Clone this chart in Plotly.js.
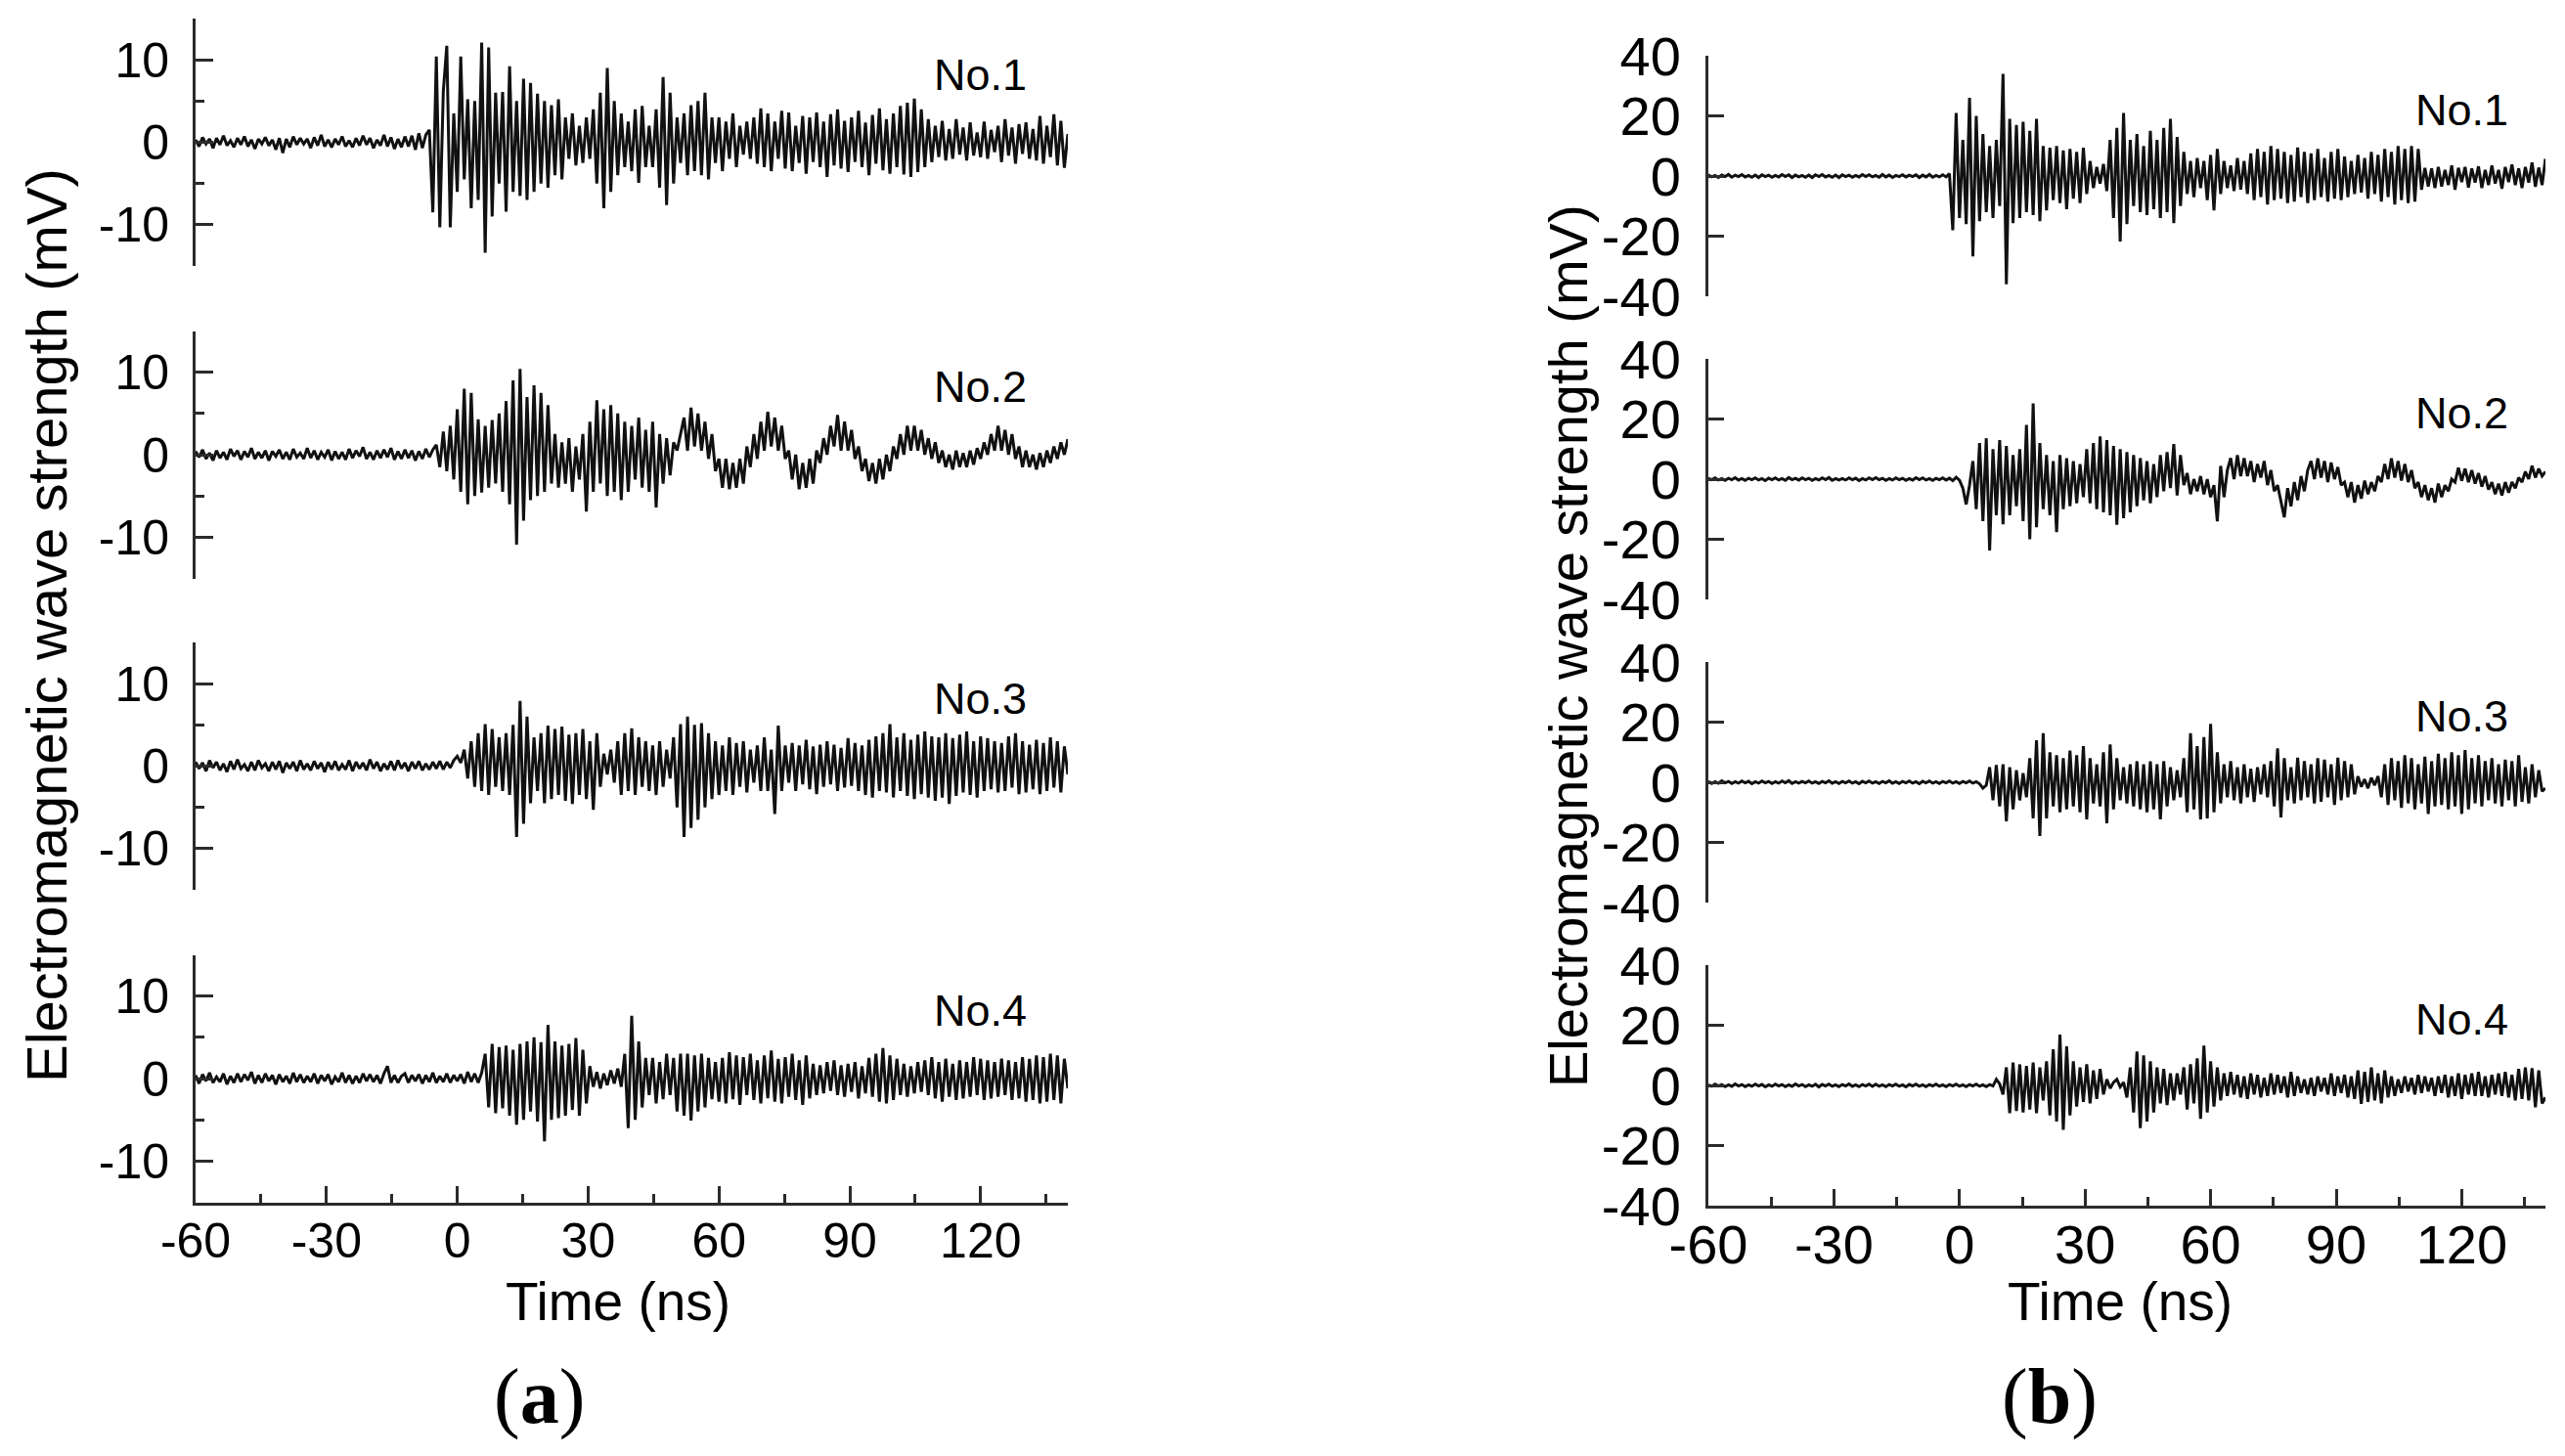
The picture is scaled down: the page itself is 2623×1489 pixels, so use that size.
<!DOCTYPE html>
<html><head><meta charset="utf-8">
<script src="https://cdn.plot.ly/plotly-3.0.1.min.js"></script>
<style>html,body{margin:0;padding:0;background:#fff}#chart{width:2623px;height:1489px}</style>
</head><body><div id="chart"></div>
<script>
// Sampling grid of the recorded traces (ns)
const timeStartNs = -60, timeStepNs = 0.8;

// ---- Panel (a): electromagnetic wave strength (mV), traces No.1 - No.4 ----
const a1 = [
0.3,-0.5,0.6,-0.2,0.4,-0.7,0.5,-0.3,0.8,-0.4,
0.2,-0.6,0.5,-0.3,0.7,-0.5,0.3,-0.8,0.4,-0.2,
0.6,-0.4,0.3,-0.9,0.5,-1.3,0.4,-0.6,0.7,-0.3,
0.5,-0.2,0.4,-0.7,0.6,-0.4,0.9,-0.5,0.3,-0.6,
0.4,-0.3,0.7,-0.5,0.2,-0.6,0.5,-0.4,0.8,-0.3,
0.5,-0.7,0.3,-0.4,0.9,-0.5,0.6,-0.8,0.4,-0.6,
0.7,-0.5,0.8,-0.9,1.1,-0.7,0.9,1.5,-8.5,10.4,
-10.3,6.2,11.7,-10.3,3.5,-6.0,10.4,-4.5,5.2,-8.0,
5.0,-7.0,12.1,-13.4,11.5,-9.0,6.0,-5.0,6.1,-8.4,
9.2,-6.0,5.0,-6.5,7.7,-7.0,7.2,-6.0,5.9,-5.0,
5.0,-5.5,4.5,-4.0,5.2,-4.5,3.0,-2.0,3.5,-2.8,
2.0,-2.5,3.0,-2.0,4.0,-5.0,6.0,-8.0,9.0,-6.0,
5.0,-4.0,3.5,-3.0,2.5,-3.5,4.0,-4.9,4.4,-3.0,
2.0,-3.0,4.0,-5.5,7.9,-7.6,6.0,-5.0,3.0,-2.5,
3.5,-4.0,4.5,-3.5,5.0,-4.0,6.0,-4.5,3.0,-2.5,
3.0,-3.5,2.5,-2.0,3.5,-3.0,2.0,-1.5,2.5,-2.0,
3.0,-2.6,4.1,-3.0,3.5,-3.5,2.5,-2.0,3.8,-3.2,
3.6,-3.5,2.0,-2.5,3.2,-3.8,3.0,-2.4,3.6,-3.0,
2.5,-4.2,3.4,-2.8,4.0,-3.2,2.6,-3.6,3.0,-2.4,
3.8,-3.0,2.4,-4.0,3.3,-2.6,4.1,-3.4,2.8,-3.8,
3.5,-3.0,4.4,-3.9,4.8,-4.2,5.3,-3.6,4.0,-3.0,
2.8,-2.4,2.0,-1.8,2.6,-2.2,1.6,-2.0,2.8,-1.5,
1.8,-2.2,2.4,-1.6,1.2,-1.8,2.5,-2.0,1.5,-1.2,
2.0,-2.4,2.8,-1.6,1.8,-2.6,2.2,-1.4,2.4,-2.0,
1.6,-2.2,3.2,-2.6,2.0,-1.8,3.4,-2.8,2.6,-3.1,
1.0];
const a2 = [
0.4,-0.3,0.6,-0.5,0.2,-0.7,0.5,-0.4,0.3,-0.6,
0.7,-0.2,0.5,-0.6,0.4,-0.3,0.8,-0.5,0.3,-0.4,
0.5,-0.7,0.4,-0.2,0.6,-0.5,0.3,-0.6,0.7,-0.3,
0.2,-0.5,0.8,-0.4,0.5,-0.6,0.3,-0.3,0.6,-0.7,
0.4,-0.5,0.3,-0.6,0.7,-0.4,0.5,-0.2,0.9,-0.5,
0.3,-0.6,0.5,-0.4,0.6,-0.3,0.8,-0.6,0.4,-0.5,
0.6,-0.4,0.5,-0.7,0.4,-0.5,0.7,-0.3,0.6,1.2,
-1.5,2.8,-2.0,3.5,-3.0,5.5,-4.5,8.0,-6.0,7.5,
-5.0,4.3,-4.6,3.5,-4.0,4.2,-3.5,5.0,-4.5,6.5,
-6.0,9.0,-10.9,10.4,-8.0,7.0,-5.5,8.4,-5.0,7.5,
-4.5,6.0,-3.5,2.5,-4.0,1.5,-3.5,2.0,-4.5,1.0,
-3.0,2.5,-6.9,4.0,-4.5,6.6,-3.5,5.5,-5.0,6.0,
-4.5,5.0,-5.5,4.0,-4.5,3.5,-3.0,4.5,-4.0,3.0,
-4.5,4.0,-6.4,2.5,-3.5,2.0,-2.5,1.5,0.5,2.5,
4.5,0.5,5.7,1.0,5.0,0.5,4.0,-0.5,2.5,-2.0,
-0.5,-4.0,-0.5,-4.2,-1.0,-4.0,-0.5,-3.5,1.0,-1.5,
2.5,-0.5,4.0,0.5,5.2,1.0,4.5,0.5,3.5,-0.5,
0.5,-3.0,0.0,-4.2,-1.0,-4.0,-0.5,-3.5,0.5,-1.0,
2.0,0.0,3.5,1.0,4.8,0.5,4.0,0.5,3.0,-0.5,
1.0,-2.0,-0.5,-3.2,-1.0,-3.5,-0.5,-3.0,0.0,-2.0,
1.0,-0.5,2.5,0.0,3.5,0.5,3.5,0.5,3.0,0.0,
2.0,-0.5,1.5,-1.0,0.5,-1.5,0.0,-1.8,0.5,-1.5,
0.2,-1.5,0.5,-1.2,0.8,-0.5,1.5,0.0,2.5,0.5,
3.5,0.5,3.0,0.0,2.5,-0.5,1.0,-1.5,0.5,-1.5,
0.0,-1.8,0.2,-1.5,0.5,-1.0,1.0,-0.5,1.5,0.0,
1.9];
const a3 = [
0.5,-0.3,0.4,-0.6,0.7,-0.2,0.5,-0.5,0.3,-0.7,
0.6,-0.4,0.8,-0.3,0.2,-0.6,0.5,-0.5,0.7,-0.2,
0.3,-0.6,0.5,-0.4,0.6,-0.8,0.4,-0.3,0.5,-0.6,
0.7,-0.4,0.3,-0.5,0.6,-0.3,0.4,-0.7,0.5,-0.4,
0.6,-0.5,0.2,-0.4,0.7,-0.6,0.5,-0.3,0.4,-0.5,
0.8,-0.3,0.5,-0.6,0.3,-0.4,0.6,-0.5,0.7,-0.3,
0.4,-0.6,0.5,-0.3,0.6,-0.5,0.3,-0.4,0.5,-0.3,
0.6,-0.4,0.5,-0.2,0.7,1.2,0.4,2.0,-1.5,3.0,
-2.5,4.0,-3.0,5.1,-3.5,4.5,-2.5,3.5,-3.0,4.0,
-3.5,5.0,-8.6,7.9,-7.0,6.0,-4.5,3.5,-3.0,4.0,
-4.5,4.9,-4.0,4.5,-3.5,4.8,-4.2,3.8,-4.6,4.0,
-3.5,4.5,-4.0,3.0,-5.3,4.0,-2.5,1.5,-1.0,2.0,
-2.0,3.0,-3.5,4.0,-3.0,4.6,-3.5,3.5,-2.5,3.0,
-3.0,2.5,-3.5,3.0,-2.5,2.0,-1.5,3.5,-5.0,5.1,
-8.6,6.0,-7.5,5.0,-6.5,5.2,-5.0,4.0,-4.0,3.0,
-3.5,2.5,-3.0,3.5,-3.5,2.8,-2.5,3.0,-3.2,2.0,
-2.0,2.5,-3.0,3.5,-3.0,2.0,-5.8,4.9,-3.0,2.5,
-2.0,2.8,-3.0,2.5,-2.2,3.2,-2.8,2.4,-3.4,2.6,
-2.5,3.0,-2.2,2.6,-3.0,2.2,-2.6,3.4,-2.4,2.8,
-3.0,2.5,-3.5,3.2,-3.8,3.6,-3.0,4.0,-3.2,5.1,
-3.8,3.5,-3.0,4.0,-3.6,3.2,-4.0,3.8,-3.4,4.2,
-3.8,3.6,-4.2,3.5,-3.8,4.0,-4.6,3.4,-3.6,3.8,
-3.2,4.2,-3.5,3.0,-3.8,3.6,-3.0,3.4,-2.8,3.0,
-3.2,2.8,-3.0,3.6,-2.6,4.0,-3.4,3.0,-3.2,2.6,
-2.8,3.2,-3.4,2.8,-3.0,3.5,-2.6,3.0,-3.2,2.4,
-1.0];
const a4 = [
0.4,-0.6,0.5,-0.3,0.7,-0.5,0.2,-0.4,0.6,-0.7,
0.3,-0.5,0.6,-0.4,0.5,-0.2,0.8,-0.6,0.4,-0.5,
0.6,-0.3,0.4,-0.7,0.5,-0.4,0.3,-0.6,0.7,-0.4,
0.5,-0.5,0.3,-0.4,0.6,-0.6,0.4,-0.3,0.5,-0.7,
0.2,-0.4,0.7,-0.5,0.4,-0.6,0.3,-0.5,0.6,-0.3,
0.5,-0.4,0.4,-0.6,0.6,1.5,-0.5,0.4,-0.5,0.3,
0.6,-0.5,0.4,-0.3,0.5,-0.6,0.4,-0.4,0.7,-0.5,
0.3,-0.4,0.6,-0.5,0.4,-0.3,0.5,-0.6,0.8,-0.4,
0.6,-0.5,0.7,3.0,-3.5,4.2,-4.2,3.8,-3.6,4.0,
-4.5,3.5,-5.6,4.2,-5.0,4.5,-4.0,5.0,-5.2,4.4,
-7.6,6.5,-5.0,4.5,-4.8,4.0,-4.5,4.2,-3.8,4.9,
-4.5,3.5,-3.0,1.5,-1.0,0.8,-1.2,0.6,-0.8,1.0,
-0.6,1.2,-1.0,3.0,-6.0,7.6,-5.0,4.5,-3.5,2.5,
-2.0,2.5,-3.0,2.0,-2.5,3.0,-2.0,2.5,-4.0,3.0,
-4.5,3.0,-5.1,2.8,-4.0,3.0,-3.5,2.5,-2.5,2.0,
-2.8,2.5,-3.0,3.2,-2.5,2.8,-3.2,2.6,-2.0,3.0,
-2.6,2.2,-3.0,2.8,-2.4,3.4,-2.8,2.4,-3.0,2.6,
-2.2,3.0,-2.6,2.2,-3.2,2.8,-2.4,1.8,-2.0,1.6,
-1.8,2.0,-1.5,2.2,-2.0,1.6,-2.2,1.8,-1.6,2.0,
-2.4,1.5,-1.8,2.5,-2.2,3.0,-2.8,3.7,-3.0,2.8,
-2.6,2.4,-2.0,1.8,-2.2,1.5,-1.8,2.0,-1.6,2.2,
-2.0,2.6,-2.4,2.0,-2.8,2.4,-2.2,1.8,-2.6,2.2,
-2.4,2.0,-2.2,2.6,-2.0,2.4,-2.6,2.2,-2.4,2.0,
-2.2,2.4,-2.0,2.2,-2.6,2.0,-2.4,2.6,-2.8,2.4,
-2.6,2.8,-3.0,2.6,-2.8,3.0,-2.6,2.8,-3.0,2.4,
-1.2];

// ---- Panel (b): electromagnetic wave strength (mV), traces No.1 - No.4 ----
const b1 = [
0.4,-0.3,0.2,-0.5,0.3,-0.2,0.5,-0.4,0.3,-0.2,
0.5,-0.3,0.2,-0.4,0.3,-0.5,0.4,-0.2,0.3,-0.4,
0.2,-0.3,0.5,-0.2,0.4,-0.5,0.3,-0.3,0.2,-0.4,
0.3,-0.5,0.4,-0.2,0.5,-0.3,0.2,-0.4,0.3,-0.5,
0.4,-0.2,0.3,-0.4,0.2,-0.3,0.5,-0.2,0.4,-0.3,
0.2,-0.4,0.5,-0.3,0.3,-0.5,0.2,-0.2,0.4,-0.3,
0.3,-0.2,0.4,-0.5,0.3,-0.3,0.5,-0.4,0.2,-0.3,
0.4,-0.3,0.8,-18.0,21.0,-14.0,12.0,-16.0,26.0,-26.7,
20.0,-15.0,14.0,-12.0,10.0,-14.0,12.0,-10.0,34.0,-36.0,
19.0,-15.7,17.0,-14.0,18.0,-12.0,15.0,-13.0,19.0,-15.0,
10.0,-11.4,9.4,-8.0,10.0,-9.0,8.5,-11.0,9.0,-7.5,
8.0,-9.0,9.4,-6.0,5.0,-4.0,3.0,-2.5,4.0,-5.0,
12.0,-14.0,16.0,-21.8,21.0,-16.0,12.0,-10.0,14.0,-12.0,
10.0,-13.0,15.0,-11.0,12.0,-14.0,16.0,-12.0,19.0,-15.7,
13.0,-10.0,8.0,-6.0,5.0,-7.0,6.0,-4.0,5.0,-8.0,
7.0,-11.4,9.0,-6.0,5.0,-4.0,3.5,-5.0,6.0,-4.5,
5.0,-6.0,7.5,-8.0,9.0,-7.0,8.0,-9.5,10.0,-8.0,
9.0,-7.5,8.0,-9.0,7.0,-8.5,9.5,-7.0,8.0,-9.0,
7.5,-8.0,9.0,-7.0,6.0,-8.5,8.0,-7.5,9.0,-8.0,
6.5,-7.0,5.0,-6.0,7.0,-5.5,6.0,-7.5,8.0,-6.0,
7.0,-8.5,9.0,-7.0,8.0,-9.5,10.0,-8.0,9.0,-9.0,
10.0,-8.5,9.0,-4.6,2.7,-3.5,2.5,-4.0,3.0,-3.5,
2.0,-3.0,3.5,-4.6,2.7,-2.0,3.0,-3.8,2.5,-2.2,
3.2,-4.0,2.0,-3.0,3.5,-2.5,2.0,-4.2,3.0,-2.0,
3.8,-3.0,2.5,-4.0,3.0,-2.2,4.5,-3.6,2.8,-3.0,
5.7];
const b2 = [
0.3,-0.2,0.4,-0.3,0.2,-0.4,0.3,-0.2,0.5,-0.3,
0.2,-0.4,0.3,-0.2,0.4,-0.3,0.2,-0.5,0.3,-0.2,
0.4,-0.3,0.2,-0.4,0.5,-0.2,0.3,-0.3,0.4,-0.2,
0.3,-0.4,0.2,-0.3,0.4,-0.2,0.5,-0.4,0.2,-0.3,
0.2,-0.3,0.4,-0.2,0.3,-0.5,0.2,-0.3,0.4,-0.2,
0.5,-0.2,0.3,-0.4,0.2,-0.3,0.4,-0.2,0.3,-0.4,
0.2,-0.3,0.5,-0.2,0.4,-0.3,0.2,-0.4,0.3,-0.2,
0.4,-0.3,0.3,-0.5,0.6,-0.4,-3.0,-8.4,-2.0,6.0,
-10.0,12.0,-14.0,13.6,-23.7,10.0,-12.0,13.0,-15.0,11.0,
-12.0,8.0,-9.0,10.0,-14.0,18.0,-20.0,25.2,-16.0,12.0,
-10.0,8.0,-12.0,6.0,-17.6,8.0,-10.0,7.0,-9.0,6.0,
-8.0,5.0,-6.0,10.0,-8.0,12.0,-10.0,14.2,-11.0,13.0,
-12.0,11.0,-15.2,10.0,-13.0,9.0,-11.0,8.0,-9.0,7.0,
-7.0,6.0,-8.0,5.0,-6.0,8.0,-4.0,9.0,-3.0,11.7,
-5.4,8.0,-2.0,2.0,-5.0,0.0,-4.0,1.0,-5.0,0.0,
-6.0,-2.0,-14.0,4.4,-6.0,3.0,7.0,0.0,8.0,1.0,
7.0,1.0,6.0,-1.0,5.0,0.5,6.0,-2.0,3.0,-4.0,
-2.0,-7.0,-12.7,-3.0,-9.0,-1.0,-7.0,1.0,-4.0,3.0,
6.0,0.0,6.9,0.5,6.0,-1.0,5.5,0.0,4.0,-2.0,
-1.0,-6.0,-1.0,-7.8,-2.0,-6.5,-0.5,-5.0,-1.0,-4.0,
1.0,-1.0,5.0,0.0,6.9,0.5,6.0,-0.5,5.0,-1.0,
3.0,-3.0,-1.0,-6.0,-2.0,-7.0,-3.0,-7.8,-1.5,-6.0,
-2.0,-4.0,0.0,-1.0,3.8,-0.5,3.5,-1.0,3.0,-1.5,
2.0,-2.5,1.0,-3.5,-1.0,-5.0,-1.5,-5.4,-1.0,-4.5,
-1.0,-3.0,0.5,-1.0,2.5,0.0,4.4,0.5,3.5,1.0,
2.5];
const b3 = [
0.3,-0.4,0.2,-0.3,0.5,-0.2,0.3,-0.4,0.2,-0.3,
0.4,-0.2,0.3,-0.5,0.2,-0.3,0.4,-0.2,0.3,-0.4,
0.2,-0.3,0.4,-0.2,0.5,-0.4,0.2,-0.3,0.3,-0.2,
0.4,-0.3,0.2,-0.4,0.3,-0.2,0.5,-0.3,0.2,-0.4,
0.3,-0.2,0.4,-0.3,0.2,-0.5,0.3,-0.2,0.4,-0.3,
0.2,-0.4,0.3,-0.2,0.5,-0.3,0.2,-0.4,0.3,-0.2,
0.4,-0.3,0.2,-0.5,0.3,-0.2,0.4,-0.3,0.2,-0.4,
0.3,-0.2,0.4,-0.3,0.2,-0.4,0.3,-0.2,0.4,-0.3,
0.2,-0.5,-2.0,-1.0,5.0,-6.0,5.7,-8.0,6.0,-13.0,
5.0,-9.0,4.0,-6.0,3.0,-5.0,8.0,-12.0,14.0,-17.9,
16.3,-12.0,10.0,-8.0,9.0,-10.0,8.0,-9.0,10.5,-8.0,
9.0,-10.0,12.0,-12.3,8.0,-7.0,6.0,-8.0,10.0,-13.6,
12.6,-9.0,8.0,-6.0,5.0,-7.0,6.0,-8.0,7.0,-9.0,
6.0,-10.0,7.0,-9.0,6.0,-12.3,7.0,-8.0,5.0,-6.0,
4.0,-5.0,8.0,-10.0,16.3,-9.0,12.0,-12.3,15.0,-12.0,
19.4,-10.0,10.0,-7.0,6.0,-5.0,7.0,-6.0,5.0,-7.0,
6.0,-5.0,4.5,-6.5,5.0,-4.0,6.0,-5.0,7.0,-8.0,
11.3,-11.7,8.0,-6.0,5.0,-7.0,8.2,-6.0,7.0,-5.0,
6.0,-7.0,8.0,-6.5,7.5,-5.0,6.0,-7.5,8.2,-6.0,
7.0,-5.0,6.0,-4.0,2.0,-1.5,1.0,-2.0,1.5,-1.0,
2.0,-5.0,6.0,-7.5,8.0,-6.0,7.0,-8.5,9.0,-7.0,
8.0,-9.0,6.0,-7.0,8.5,-10.5,7.0,-8.0,9.5,-7.5,
8.0,-9.0,10.0,-8.0,9.0,-10.5,10.7,-9.0,8.0,-7.0,
9.0,-8.0,7.0,-6.0,8.0,-7.0,6.0,-8.0,7.5,-6.0,
7.0,-8.0,9.0,-6.5,5.0,-7.0,6.0,-5.0,4.0,-3.0,
-2.0];
const b4 = [
0.2,-0.3,0.4,-0.2,0.3,-0.4,0.2,-0.3,0.5,-0.2,
0.3,-0.4,0.2,-0.3,0.4,-0.2,0.3,-0.5,0.2,-0.3,
0.4,-0.2,0.3,-0.4,0.2,-0.3,0.5,-0.2,0.3,-0.4,
0.2,-0.3,0.4,-0.5,0.3,-0.2,0.4,-0.3,0.2,-0.4,
0.3,-0.2,0.5,-0.3,0.2,-0.4,0.3,-0.2,0.4,-0.3,
0.4,-0.3,0.2,-0.4,0.3,-0.2,0.4,-0.3,0.2,-0.5,
0.3,-0.2,0.4,-0.3,0.2,-0.4,0.3,-0.2,0.4,-0.3,
0.2,-0.4,0.3,-0.2,0.4,-0.3,0.2,-0.4,0.3,-0.2,
0.4,-0.3,0.2,-0.4,0.3,-0.2,2.0,0.5,-3.0,6.0,
-9.2,7.6,-8.5,7.0,-9.0,6.5,-8.0,7.6,-9.2,6.0,
-5.0,8.0,-10.0,12.0,-12.0,16.9,-14.8,13.0,-10.0,8.0,
-7.0,6.0,-5.5,7.0,-6.0,5.0,-4.5,5.5,-3.0,2.0,
-1.0,1.0,2.0,-0.5,1.0,-4.0,6.0,-9.0,11.3,-14.2,
10.0,-12.0,8.0,-9.0,6.0,-6.0,5.5,-6.5,4.0,-5.0,
4.0,-3.0,6.0,-8.0,7.0,-6.0,9.0,-11.1,13.2,-9.0,
8.0,-7.0,6.0,-5.0,4.0,-3.5,4.5,-3.0,3.5,-4.0,
3.0,-4.5,4.0,-3.0,3.5,-4.0,2.5,-3.5,4.0,-3.0,
3.5,-2.5,3.0,-4.0,4.5,-3.5,3.0,-2.5,2.0,-3.0,
2.5,-3.5,3.0,-2.0,2.5,-3.0,4.0,-3.5,3.0,-2.5,
3.5,-4.0,3.0,-4.5,5.0,-6.1,4.5,-5.5,6.0,-5.0,
4.0,-6.0,5.0,-4.0,3.0,-3.5,2.0,-2.5,3.0,-2.0,
2.5,-3.0,3.5,-2.5,3.0,-2.0,2.5,-3.5,3.0,-2.5,
3.5,-4.0,3.0,-3.5,4.0,-4.5,3.5,-3.0,4.0,-3.5,
4.5,-3.5,3.0,-4.0,3.5,-3.0,4.0,-3.5,4.5,-4.0,
3.5,-5.0,5.5,-4.5,6.0,-5.0,5.7,-7.3,5.0,-6.0,
-4.0];

// Tick labels and trace labels
const xTickVals = [-60, -30, 0, 30, 60, 90, 120];
const xTickText = ["-60", "-30", "0", "30", "60", "90", "120"];
const xMinorVals = [-45, -15, 15, 45, 75, 105, 135];
const yTickValsA = [-10, 0, 10];
const yTickTextA = ["-10", "0", "10"];
const yMinorValsA = [-15, -5, 5, 15];
const yTickValsB = [-40, -20, 0, 20, 40];
const yTickTextB = ["-40", "-20", "0", "20", "40"];
const traceLabels = ["No.1", "No.2", "No.3", "No.4"];
const yTitle = "Electromagnetic wave strength (mV)";
const xTitle = "Time (ns)";
const panelTags = ["a", "b"];

// ---------------- layout ----------------
const W = 2623, H = 1489;
const sans = "Liberation Sans, Arial, Helvetica, sans-serif";
const serif = "Liberation Serif, Times New Roman, Times, serif";
const axisInk = "#2b2b2b";
const textInk = "#000";

const panels = [
  { series: [a1, a2, a3, a4], x0: 200, x1: 1092, tops: [19, 338.5, 657, 976.5], h: 253,
    yRange: [-15, 15], yTickVals: yTickValsA, yTickText: yTickTextA, yMinor: yMinorValsA,
    labelY: 8.2, tickSize: 50, yTickLen: 18, xStandoff: -7, titleX: 47, titleY: 640, titleSize: 58,
    timeX: 632, tagX: 551 },
  { series: [b1, b2, b3, b4], x0: 1747, x1: 2603, tops: [57, 367, 677, 987], h: 246,
    yRange: [-40, 40], yTickVals: yTickValsB, yTickText: yTickTextB, yMinor: null,
    labelY: 22, tickSize: 56, yTickLen: 16, xStandoff: -11, titleX: 1603, titleY: 661, titleSize: 56,
    timeX: 2168, tagX: 2096 }
];

const traces = [];
const layout = {
  width: W, height: H,
  margin: { l: 0, r: 0, t: 0, b: 0, pad: 0 },
  paper_bgcolor: "#fff", plot_bgcolor: "rgba(0,0,0,0)",
  showlegend: false,
  annotations: []
};

panels.forEach((p, pi) => {
  p.series.forEach((vals, k) => {
    const n = pi * 4 + k + 1;
    const sfx = n === 1 ? "" : String(n);
    const time = vals.map((_, i) => timeStartNs + i * timeStepNs);
    traces.push({
      type: "scatter", mode: "lines", x: time, y: vals,
      xaxis: "x" + sfx, yaxis: "y" + sfx,
      line: { color: "#111", width: 3 },
      hoverinfo: "skip"
    });
    const top = p.tops[k], bot = top + p.h;
    const isBottom = k === 3;
    layout["xaxis" + sfx] = {
      domain: [p.x0 / W, p.x1 / W], range: [-60, 140], anchor: "y" + sfx,
      visible: isBottom, showgrid: false, zeroline: false,
      showline: true, linewidth: 3, linecolor: axisInk,
      ticks: "inside", ticklen: 17, tickwidth: 3, tickcolor: axisInk,
      tickmode: "array", tickvals: xTickVals, ticktext: xTickText,
      tickfont: { family: sans, size: p.tickSize, color: textInk },
      ticklabelstandoff: p.xStandoff,
      minor: { tickmode: "array", tickvals: xMinorVals, ticks: "inside", ticklen: 9, tickwidth: 3, tickcolor: axisInk, showgrid: false },
      fixedrange: true
    };
    const ya = {
      domain: [1 - bot / H, 1 - top / H], range: p.yRange, anchor: "x" + sfx,
      showgrid: false, zeroline: false,
      showline: true, linewidth: 3, linecolor: axisInk,
      ticks: "inside", ticklen: p.yTickLen, tickwidth: 3, tickcolor: axisInk,
      tickmode: "array", tickvals: p.yTickVals, ticktext: p.yTickText,
      tickfont: { family: sans, size: p.tickSize, color: textInk },
      ticklabelstandoff: 14,
      fixedrange: true
    };
    if (p.yMinor) {
      ya.minor = { tickmode: "array", tickvals: p.yMinor, ticks: "inside", ticklen: 9, tickwidth: 3, tickcolor: axisInk, showgrid: false };
    }
    layout["yaxis" + sfx] = ya;
    layout.annotations.push({
      xref: "x" + sfx, yref: "y" + sfx, x: 120, y: p.labelY,
      text: traceLabels[k], showarrow: false, xanchor: "center", yanchor: "middle",
      font: { family: sans, size: 45, color: textInk }
    });
  });
  // y-axis title spanning the four stacked plots
  layout.annotations.push({
    xref: "paper", yref: "paper", x: p.titleX / W, y: 1 - p.titleY / H,
    text: yTitle, textangle: -90, showarrow: false, xanchor: "center", yanchor: "middle",
    font: { family: sans, size: p.titleSize, color: textInk }
  });
  // x-axis title
  layout.annotations.push({
    xref: "paper", yref: "paper", x: p.timeX / W, y: 1 - 1331 / H,
    text: xTitle, showarrow: false, xanchor: "center", yanchor: "middle",
    font: { family: sans, size: 55, color: textInk }
  });
  // panel tag
  layout.annotations.push({
    xref: "paper", yref: "paper", x: p.tagX / W, y: 1 - 1428 / H,
    text: "(<b>" + panelTags[pi] + "</b>)", showarrow: false, xanchor: "center", yanchor: "middle",
    font: { family: serif, size: 80, color: textInk }
  });
});

Plotly.newPlot("chart", traces, layout, { staticPlot: true, displayModeBar: false });
</script>
</body></html>
